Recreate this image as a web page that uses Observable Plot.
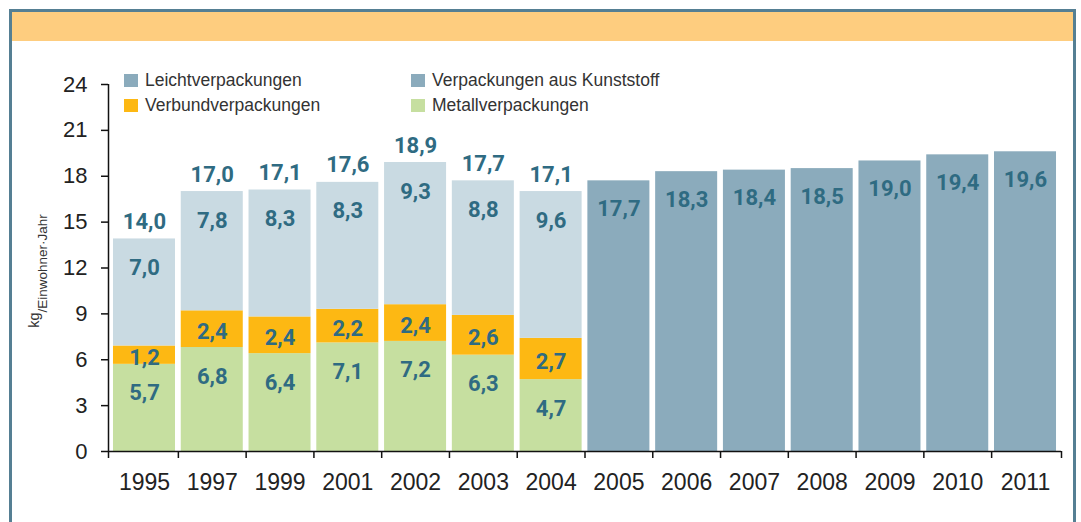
<!DOCTYPE html>
<html><head><meta charset="utf-8">
<script src="https://cdn.jsdelivr.net/npm/d3@7"></script>
<script src="https://cdn.jsdelivr.net/npm/@observablehq/plot@0.6"></script>
<style>
body{margin:0;background:#fff;}
#wrap{position:relative;width:1081px;height:522px;overflow:hidden;font-family:"Liberation Sans",Arial,sans-serif;}
#frame{position:absolute;left:9px;top:9px;width:1061px;height:600px;border:3px solid #557f93;}
#header{position:absolute;left:12px;top:12px;width:1061px;height:29px;background:#fecd7f;}
.lg{position:absolute;display:flex;align-items:center;font-size:17.5px;color:#333;white-space:nowrap;height:20px;}
.lg span.sw{display:inline-block;width:14px;height:13px;margin-right:7px;}
#chart{position:absolute;left:0;top:0;}
</style>
</head><body>
<div id="wrap">
  <div id="frame"></div>
  <div id="header"></div>
  <div id="chart"></div>
  <div id="legend"></div>
</div>
<script>
// ---- data ----
const years = ["1995","1997","1999","2001","2002","2003","2004","2005","2006","2007","2008","2009","2010","2011"];
const stackYears = ["1995","1997","1999","2001","2002","2003","2004"];
const metall  = [5.7, 6.8, 6.4, 7.1, 7.2, 6.3, 4.7];
const verbund = [1.2, 2.4, 2.4, 2.2, 2.4, 2.6, 2.7];
const leicht  = [7.0, 7.8, 8.3, 8.3, 9.3, 8.8, 9.6];
const totals  = [14.0, 17.0, 17.1, 17.6, 18.9, 17.7, 17.1];
const kunstYears = ["2005","2006","2007","2008","2009","2010","2011"];
const kunststoff = [17.7, 18.3, 18.4, 18.5, 19.0, 19.4, 19.6];
const yTicks = [0, 3, 6, 9, 12, 15, 18, 21, 24];
const seriesKeys = ["Leicht", "Verbund", "Metall", "Kunststoff"];
const seriesNames = ["Leichtverpackungen", "Verbundverpackungen", "Metallverpackungen", "Verpackungen aus Kunststoff"];
const barColors = ["#c9dae2", "#fdb813", "#c6dfa0", "#8babbc"];
const legendColors = ["#8babbc", "#fdb813", "#c6dfa0", "#8babbc"];
const yLabelUnit = "kg";
const yLabelRest = "/Einwohner·Jahr";

// ---- layout ----
const W = 1081, H = 522, ML = 108, MR = 20, MT = 84, MB = 71;
const PI = 0.085, PO = 0.0735;
const n = years.length;
const step = (W - ML - MR) / (n - PI + 2 * PO);
const bw = step * (1 - PI);
const half = step / 2, endHalf = bw / 2 + PO * step;
const fmt = v => v.toFixed(1).replace(".", ",");

const stackRows = [];
const totalRows = [];
stackYears.forEach((yr, i) => {
  let base = 0;
  [["Metall", metall], ["Verbund", verbund], ["Leicht", leicht]].forEach(([t, arr]) => {
    const v = arr[i];
    stackRows.push({year: yr, type: t, value: v, bottom: base, top: base + v});
    base += v;
  });
  totalRows.push({year: yr, top: base, total: totals[i]});
});
const kunstRows = kunstYears.map((yr, i) => ({year: yr, type: "Kunststoff", value: kunststoff[i]}));

const labelFont = "Roboto,'Liberation Sans',sans-serif";
const labelStyle = {fill: "#2f6b82", fontSize: 22, fontWeight: "bold", fontFamily: labelFont, letterSpacing: "-0.5px"};

const chart = Plot.plot({
  width: W, height: H,
  marginLeft: ML, marginRight: MR, marginTop: MT, marginBottom: MB,
  style: {background: "transparent", fontFamily: "'Liberation Sans',Arial,sans-serif", overflow: "visible"},
  x: {type: "band", domain: years, paddingInner: PI, paddingOuter: PO, align: 0.5, round: false, label: null, axis: null},
  y: {domain: [0, 24], label: null, axis: null},
  color: {domain: seriesKeys, range: barColors},
  marks: [
    Plot.barY(stackRows, {x: "year", y1: "bottom", y2: "top", fill: "type"}),
    Plot.barY(kunstRows, {x: "year", y: "value", fill: "type"}),
    Plot.text(stackRows.filter(d => d.type !== "Verbund"), {x: "year", y: "top", text: d => fmt(d.value), dy: 29, ...labelStyle}),
    Plot.text(stackRows.filter(d => d.type === "Verbund"), {x: "year", y: d => (d.bottom + d.top) / 2, text: d => fmt(d.value), dy: 3, ...labelStyle}),
    Plot.text(totalRows, {x: "year", y: "top", text: d => fmt(d.total), dy: -17, ...labelStyle}),
    Plot.text(kunstRows, {x: "year", y: "value", text: d => fmt(d.value), dy: 28, ...labelStyle}),
    // axes
    Plot.axisY({ticks: yTicks, tickSize: 7, tickPadding: 14, fontSize: 22, label: null, stroke: "#111", fill: "#222", strokeWidth: 1.5}),
    Plot.axisX({tickSize: 0, tickPadding: 22, fontSize: 23, label: null, fill: "#222"}),
    Plot.ruleY([0], {stroke: "#111", strokeWidth: 1.5}),
    Plot.ruleX([years[0]], {x: d => d, y1: 0, y2: 24, dx: -endHalf, stroke: "#111", strokeWidth: 1.5}),
    Plot.ruleX(years.slice(1), {x: d => d, y1: 0, y2: 0, dx: -half, insetBottom: -7, stroke: "#111", strokeWidth: 1.5}),
    Plot.ruleX([years[0]], {x: d => d, y1: 0, y2: 0, dx: -endHalf, insetBottom: -7, stroke: "#111", strokeWidth: 1.5}),
    Plot.ruleX([years[n - 1]], {x: d => d, y1: 0, y2: 0, dx: endHalf, insetBottom: -7, stroke: "#111", strokeWidth: 1.5})
  ]
});
document.getElementById("chart").appendChild(chart);

// y-axis unit label
const svg = d3.select(chart);
const yl = svg.append("text")
  .attr("transform", "translate(47,271) rotate(-90)")
  .attr("text-anchor", "middle")
  .attr("fill", "#333")
  .style("font-family", "'Liberation Sans',Arial,sans-serif");
yl.append("tspan").attr("font-size", 14.5).attr("dy", -8).text(yLabelUnit);
yl.append("tspan").attr("font-size", 13.5).attr("dy", 8).text(yLabelRest);

// legend
const legendPos = [[124, 70], [124, 95], [411, 95], [411, 70]];
const lg = document.getElementById("legend");
seriesNames.forEach((name, i) => {
  const d = document.createElement("div");
  d.className = "lg";
  d.style.left = legendPos[i][0] + "px";
  d.style.top = legendPos[i][1] + "px";
  const sw = document.createElement("span");
  sw.className = "sw";
  sw.style.background = legendColors[i];
  d.appendChild(sw);
  d.appendChild(document.createTextNode(name));
  lg.appendChild(d);
});
</script>
</body></html>
